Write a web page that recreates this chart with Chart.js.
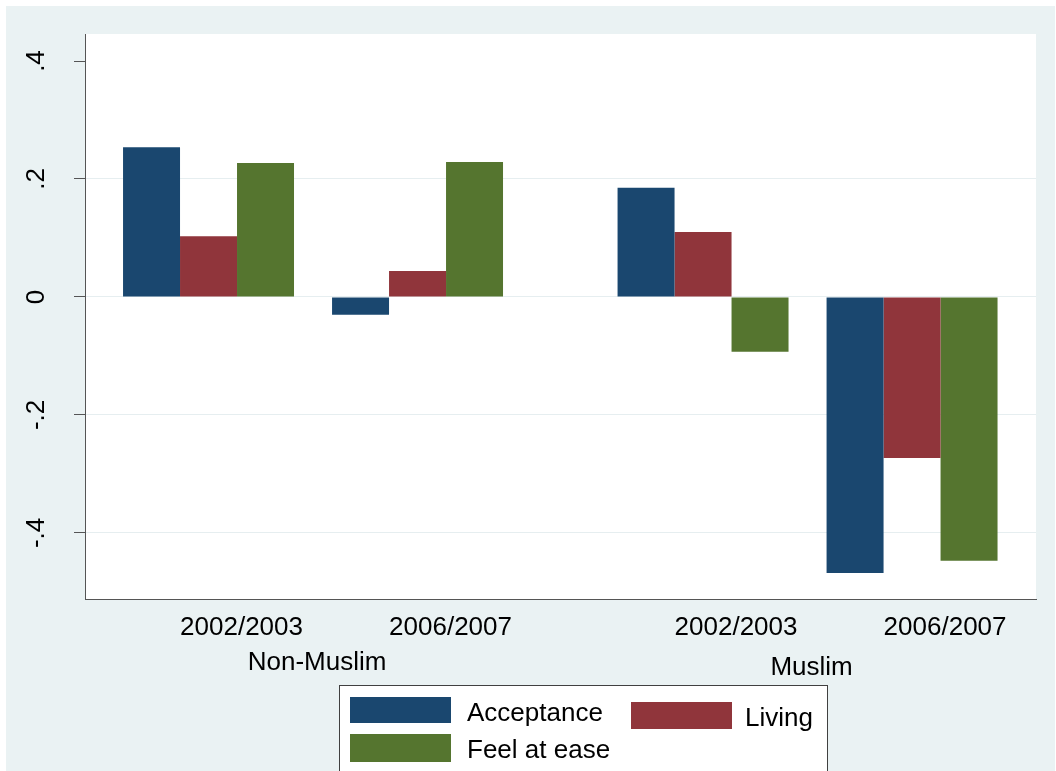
<!DOCTYPE html>
<html>
<head>
<meta charset="utf-8">
<script src="https://cdn.jsdelivr.net/npm/chart.js@4"></script>
<style>
  html, body { margin: 0; padding: 0; background: #fff; }
</style>
</head>
<body>
<canvas id="chart" width="1056" height="771"></canvas>
<script>
const GROUPS = ["Non-Muslim", "Muslim"];
const YEARS = ["2002/2003", "2006/2007"];
const SERIES = ["Acceptance", "Living", "Feel at ease"];
// bar order: Non-Muslim 02/03, Non-Muslim 06/07, Muslim 02/03, Muslim 06/07
const acceptance = [0.254, -0.030, 0.185, -0.468];
const living = [0.103, 0.044, 0.110, -0.273];
const feelAtEase = [0.227, 0.229, -0.093, -0.447];
const Y_TICKS = [-0.4, -0.2, 0, 0.2, 0.4];
const Y_TICK_LABELS = ["-.4", "-.2", "0", ".2", ".4"];

const COLORS = ["#1a476f", "#90353b", "#55752f"];
const BG = "#eaf2f3";
const AXIS = "#555555";
const FONT = '26px "Liberation Sans", Arial, sans-serif';
const OVER_GAP = 2.366; // extra space between the two over() groups

// slot on the x axis for bar group i
function slot(i) {
  return Math.floor(i / YEARS.length) * OVER_GAP + (i % YEARS.length) + 1;
}
const slots = acceptance.map((_, i) => slot(i));

function series(values) {
  return values.map((v, i) => ({ x: slots[i], y: v }));
}

const stataFrame = {
  id: "stataFrame",
  beforeDraw(chart) {
    const { ctx, chartArea: a } = chart;
    ctx.save();
    ctx.fillStyle = "#fff";
    ctx.fillRect(0, 0, chart.width, chart.height);
    ctx.fillStyle = BG;
    ctx.fillRect(6, 6, 1049, chart.height - 6);
    ctx.fillStyle = "#fff";
    ctx.fillRect(a.left, a.top, a.right - a.left, a.bottom - a.top);
    ctx.restore();
  },
  afterDraw(chart) {
    const { ctx } = chart;
    const xs = chart.scales.x, ys = chart.scales.y;
    ctx.save();
    ctx.font = FONT;
    ctx.fillStyle = "#000";

    // y tick labels, rotated
    ctx.textAlign = "center";
    ctx.textBaseline = "alphabetic";
    Y_TICKS.forEach((v, i) => {
      ctx.save();
      ctx.translate(44, ys.getPixelForValue(v));
      ctx.rotate(-Math.PI / 2);
      ctx.fillText(Y_TICK_LABELS[i], 0, 0);
      ctx.restore();
    });

    // year labels
    slots.forEach((s, i) => {
      ctx.fillText(YEARS[i % YEARS.length], xs.getPixelForValue(s) + 33, 635);
    });

    // group labels
    const groupDy = [670, 675];
    GROUPS.forEach((g, gi) => {
      const a = slots[gi * YEARS.length];
      const b = slots[gi * YEARS.length + YEARS.length - 1];
      ctx.fillText(g, (xs.getPixelForValue(a) + xs.getPixelForValue(b)) / 2 + 4, groupDy[gi]);
    });

    // legend
    ctx.fillStyle = "#fff";
    ctx.fillRect(339, 685, 488, 120);
    ctx.strokeStyle = "#404040";
    ctx.lineWidth = 1;
    ctx.strokeRect(339.5, 685.5, 488, 120);
    const items = [
      { box: [350, 697, 101, 26], tx: 467, ty: 721 },
      { box: [631, 702, 101, 27], tx: 745, ty: 726 },
      { box: [350, 734, 101, 28], tx: 467, ty: 758 }
    ];
    ctx.textAlign = "left";
    chart.data.datasets.forEach((ds, i) => {
      const it = items[i];
      ctx.fillStyle = ds.backgroundColor;
      ctx.fillRect(...it.box);
      ctx.fillStyle = "#000";
      ctx.fillText(ds.label, it.tx, it.ty);
    });
    ctx.restore();
  }
};

new Chart(document.getElementById("chart"), {
  type: "bar",
  data: {
    datasets: [
      { label: SERIES[0], data: series(acceptance), backgroundColor: COLORS[0] },
      { label: SERIES[1], data: series(living), backgroundColor: COLORS[1] },
      { label: SERIES[2], data: series(feelAtEase), backgroundColor: COLORS[2] }
    ]
  },
  options: {
    responsive: false,
    animation: false,
    categoryPercentage: 0.818,
    barPercentage: 1,
    layout: { padding: { left: 74, top: 34, right: 20, bottom: 172 } },
    scales: {
      x: {
        type: "linear",
        offset: false,
        min: 0.409,
        max: 4.959,
        afterBuildTicks: (axis) => { axis.ticks = slots.map((v) => ({ value: v })); },
        ticks: { display: false },
        grid: { display: true, offset: false, color: "rgba(0,0,0,0)", drawTicks: false },
        border: { color: AXIS, width: 1 }
      },
      y: {
        min: -0.512,
        max: 0.4458,
        afterBuildTicks: (axis) => { axis.ticks = Y_TICKS.map((v) => ({ value: v })); },
        ticks: { display: false },
        grid: {
          color: (c) => (c.tick && Math.abs(c.tick.value - 0.4) < 1e-6 ? "rgba(0,0,0,0)" : "#e6eef0"),
          tickColor: AXIS,
          tickLength: 11,
          drawTicks: true
        },
        border: { color: AXIS, width: 1 }
      }
    },
    plugins: {
      legend: { display: false },
      tooltip: { enabled: false }
    }
  },
  plugins: [stataFrame]
});
</script>
</body>
</html>
